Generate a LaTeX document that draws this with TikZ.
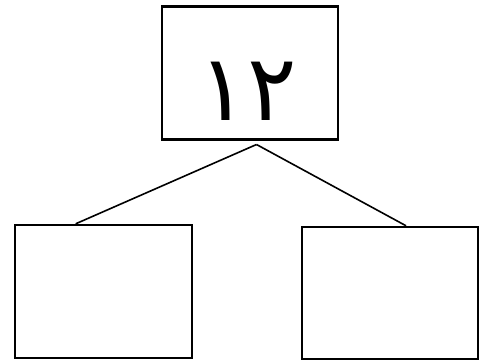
\documentclass[tikz,border=0pt]{standalone}
\usepackage{fontspec}
\newfontfamily\arabicfont[Script=Arabic]{DejaVu Sans}
\usetikzlibrary{calc}
\begin{document}
\begin{tikzpicture}[x=1pt,y=-1pt,
  box/.style={draw=black, line width=2.4pt, minimum width=176pt, minimum height=133pt, inner sep=0pt, fill=white},
  link/.style={draw=black, line width=1.6pt}]
\useasboundingbox[fill=white] (0,0) rectangle (484,361);
\node[box] (top) at (250,73) {};
\node[font=\arabicfont\fontsize{92}{92}\selectfont] (num) at (247.5,91) {١٢};
\node[box, minimum width=177pt] (left) at (103.5,291.5) {};
\node[box, minimum height=132pt] (right) at (390,293) {};
\coordinate (apex) at (256.5,144.5);
\coordinate (lend) at ($(left.north west)!0.345!(left.north east)$);
\coordinate (rend) at ($(right.north west)!0.59!(right.north east)$);
\draw[link] (apex) -- (lend);
\draw[link] (apex) -- (rend);
\end{tikzpicture}
\end{document}
